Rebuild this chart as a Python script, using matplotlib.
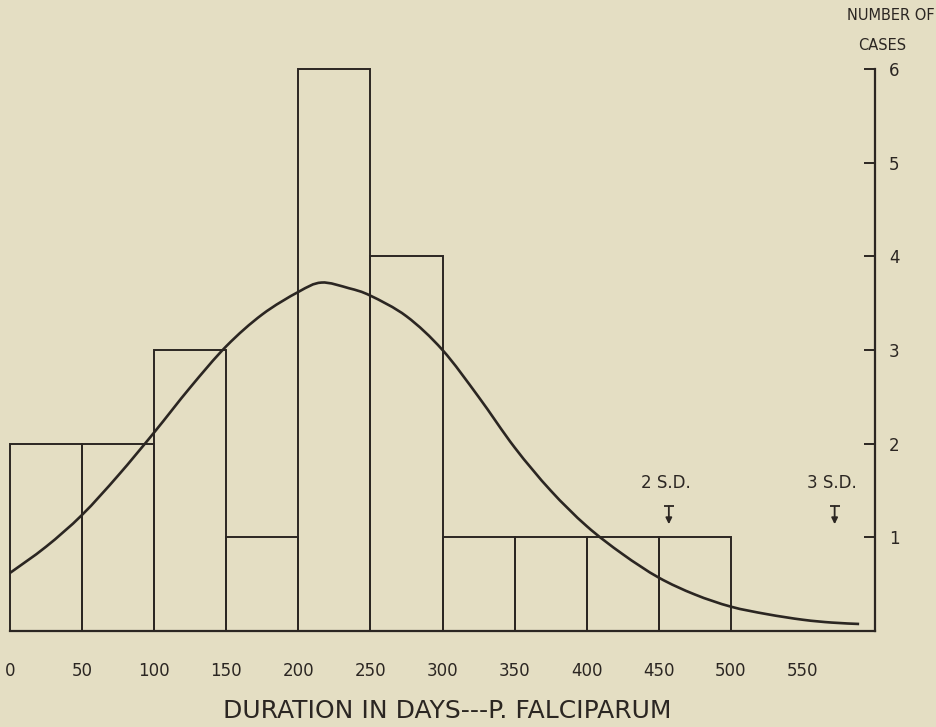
import matplotlib.pyplot as plt
from matplotlib.path import Path
from matplotlib.patches import PathPatch

# histogram of durations (days), 50-day bins
bin_left = [0, 50, 100, 150, 200, 250, 300, 350, 400, 450]
cases = [2, 2, 3, 1, 6, 4, 1, 1, 1, 1]

# fitted curve
curve_days = [0, 25, 50, 75, 100, 125, 150, 175, 200, 216, 235, 250, 275, 300,
              325, 350, 375, 400, 425, 450, 475, 500, 525, 550, 570, 589]
curve_cases = [0.62, 0.9, 1.24, 1.66, 2.12, 2.6, 3.04, 3.38, 3.62, 3.72, 3.66, 3.58, 3.36, 3.0,
               2.5, 1.96, 1.5, 1.12, 0.82, 0.57, 0.39, 0.26, 0.18, 0.12, 0.09, 0.075]

day_ticks = [0, 50, 100, 150, 200, 250, 300, 350, 400, 450, 500, 550]
case_ticks = [1, 2, 3, 4, 5, 6]
sd_days = [457, 572]
sd_labels = ["2 S.D.", "3 S.D."]

ink = "#2b2622"
paper = "#e4dec3"
plt.rcParams["font.family"] = ["Liberation Sans Narrow", "DejaVu Sans"]


def smooth_path(xs, ys):
    # Catmull-Rom through the read points, as cubic Bezier segments
    verts = [(xs[0], ys[0])]
    codes = [Path.MOVETO]
    n = len(xs)
    for i in range(n - 1):
        x0, y0 = (xs[i - 1], ys[i - 1]) if i > 0 else (xs[i], ys[i])
        x1, y1 = xs[i], ys[i]
        x2, y2 = xs[i + 1], ys[i + 1]
        x3, y3 = (xs[i + 2], ys[i + 2]) if i + 2 < n else (x2, y2)
        verts += [(x1 + (x2 - x0) / 6, y1 + (y2 - y0) / 6),
                  (x2 - (x3 - x1) / 6, y2 - (y3 - y1) / 6),
                  (x2, y2)]
        codes += [Path.CURVE4] * 3
    return Path(verts, codes)


fig = plt.figure(figsize=(9.37, 7.27), dpi=100, facecolor=paper)
ax = fig.add_axes([10 / 937, 96 / 727, 865 / 937, 562 / 727])
ax.set_facecolor("none")

ax.bar(bin_left, cases, width=50, align="edge", fill=False,
       edgecolor=ink, linewidth=1.4, clip_on=False)
ax.add_patch(PathPatch(smooth_path(curve_days, curve_cases), fill=False,
                       edgecolor=ink, linewidth=1.9, clip_on=False))

ax.set_xlim(0, 600)
ax.set_ylim(0, 6)
for side in ["left", "top"]:
    ax.spines[side].set_visible(False)
ax.spines["right"].set_color(ink)
ax.spines["right"].set_linewidth(1.6)
ax.spines["bottom"].set_color(ink)
ax.spines["bottom"].set_linewidth(1.6)

ax.yaxis.tick_right()
ax.set_yticks(case_ticks)
ax.tick_params(axis="y", direction="in", length=8, width=1.4, color=ink,
               pad=10, labelsize=12, labelcolor=ink)
ax.set_xticks(day_ticks)
ax.tick_params(axis="x", length=0, pad=22, labelsize=12, labelcolor=ink)

for d, lab in zip(sd_days, sd_labels):
    ax.text(d - 2, 1.58, lab, ha="center", va="center", fontsize=12, color=ink)
    ax.annotate("", xy=(d, 1.14), xytext=(d, 1.33),
                arrowprops=dict(arrowstyle="-|>", color=ink, lw=1.3,
                                mutation_scale=9, shrinkA=0, shrinkB=0))
    ax.plot([d], [1.33], marker="_", markersize=7, mew=1.3, color=ink)

fig.text(891 / 937, 1 - 16 / 727, "NUMBER OF", ha="center", va="center",
         fontsize=10.5, color=ink)
fig.text(882 / 937, 1 - 45 / 727, "CASES", ha="center", va="center",
         fontsize=10.5, color=ink)
fig.text(447 / 937, 1 - 711 / 727, "DURATION IN DAYS---P. FALCIPARUM",
         ha="center", va="center", fontsize=18, color=ink)

fig.savefig("out.png", dpi=100, facecolor=paper)
